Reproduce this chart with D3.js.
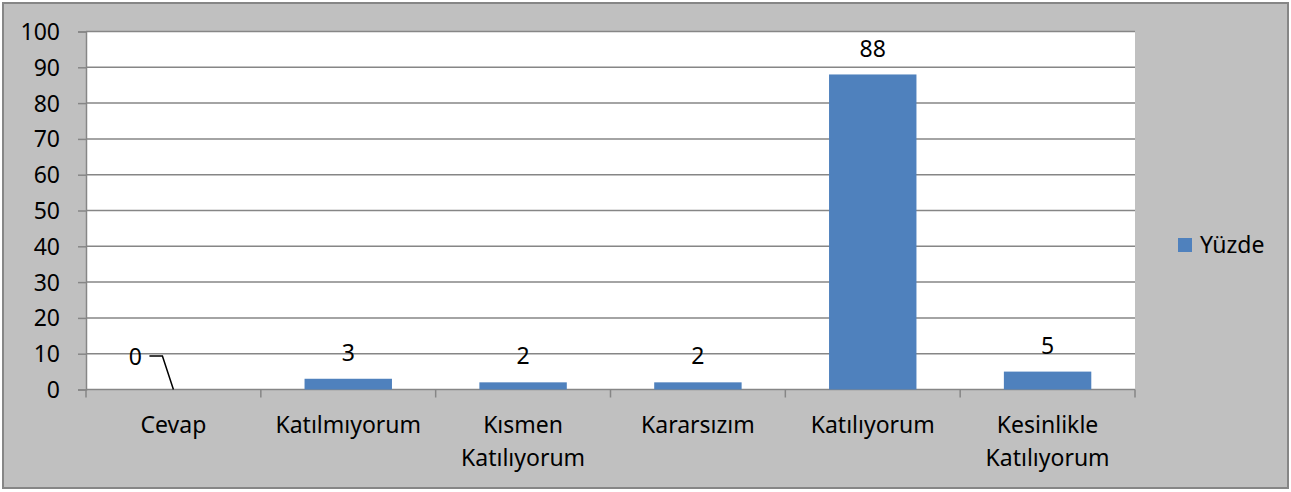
<!DOCTYPE html>
<html>
<head>
<meta charset="utf-8">
<script src="https://cdn.jsdelivr.net/npm/d3@7"></script>
<style>
  body { margin: 0; background: #fff; }
  svg text { font-family: "Noto Sans", "Open Sans", sans-serif; fill: #000; }
</style>
</head>
<body>
<svg id="chart" width="1291" height="492"></svg>
<script>
// chart data
const categories = ["Cevap", "Katılmıyorum", "Kısmen Katılıyorum", "Kararsızım", "Katılıyorum", "Kesinlikle Katılıyorum"];
const values = [0, 3, 2, 2, 88, 5];
const seriesName = "Yüzde";
const yTicks = [0, 10, 20, 30, 40, 50, 60, 70, 80, 90, 100];

const width = 1291, height = 492;
const plot = { left: 86, right: 1135, top: 31.5, bottom: 389.5 };
const fontSize = 23;

const svg = d3.select("#chart");

// outer frame
svg.append("rect")
    .attr("x", 3).attr("y", 3)
    .attr("width", width - 6).attr("height", height - 7)
    .attr("fill", "#c0c0c0")
    .attr("stroke", "#868686")
    .attr("stroke-width", 2);

// plot area
svg.append("rect")
    .attr("x", plot.left).attr("y", plot.top)
    .attr("width", plot.right - plot.left).attr("height", plot.bottom - plot.top)
    .attr("fill", "#fff");

const x = d3.scaleBand()
    .domain(categories)
    .range([plot.left, plot.right])
    .paddingInner(0.5)
    .paddingOuter(0.25);

const y = d3.scaleLinear()
    .domain([0, 100])
    .range([plot.bottom, plot.top]);

//gridlines
svg.append("g")
    .selectAll("line")
    .data(yTicks.slice(1))
    .join("line")
        .attr("x1", plot.left).attr("x2", plot.right)
        .attr("y1", d => y(d)).attr("y2", d => y(d))
        .attr("stroke", "#868686")
        .attr("stroke-width", 1.5);

// y axis
const yAxis = svg.append("g")
    .attr("transform", `translate(${plot.left},0)`)
    .call(d3.axisLeft(y).tickValues(yTicks).tickSize(8).tickPadding(18));
yAxis.select(".domain").attr("stroke", "#868686").attr("stroke-width", 1.5);
yAxis.selectAll(".tick line").attr("stroke", "#868686").attr("stroke-width", 1.5);
yAxis.selectAll(".tick text")
    .attr("font-size", fontSize)
    .attr("font-family", null)
    .attr("dy", "0.35em");

// x axis (ticks between categories)
const step = (plot.right - plot.left) / categories.length;
const xAxis = svg.append("g");
xAxis.append("line")
    .attr("x1", plot.left).attr("x2", plot.right)
    .attr("y1", plot.bottom).attr("y2", plot.bottom)
    .attr("stroke", "#868686").attr("stroke-width", 1.5);
xAxis.selectAll(".xtick")
    .data(d3.range(categories.length + 1))
    .join("line")
        .attr("class", "xtick")
        .attr("x1", i => plot.left + i * step).attr("x2", i => plot.left + i * step)
        .attr("y1", plot.bottom).attr("y2", plot.bottom + 8)
        .attr("stroke", "#868686").attr("stroke-width", 1.5);

xAxis.selectAll(".xlabel")
    .data(categories)
    .join("text")
        .attr("class", "xlabel")
        .attr("x", d => x(d) + x.bandwidth() / 2)
        .attr("y", 433)
        .attr("text-anchor", "middle")
        .attr("font-size", fontSize)
        .each(function (d) {
            const words = d.split(" ");
            d3.select(this).selectAll("tspan")
                .data(words)
                .join("tspan")
                    .attr("x", x(d) + x.bandwidth() / 2)
                    .attr("dy", (w, i) => i === 0 ? 0 : 33)
                    .text(w => w);
        });

// bars
svg.append("g")
    .selectAll("rect")
    .data(values)
    .join("rect")
        .attr("x", (d, i) => x(categories[i]))
        .attr("y", d => y(d))
        .attr("width", x.bandwidth())
        .attr("height", d => y(0) - y(d))
        .attr("fill", "#4f81bd");

// value labels
const labels = svg.append("g");
values.forEach((v, i) => {
    const cx = x(categories[i]) + x.bandwidth() / 2;
    if (v === 0) {
        //label pushed aside with a leader line
        labels.append("text")
            .attr("x", cx - 38).attr("y", y(v) - 33)
            .attr("dy", "0.35em")
            .attr("text-anchor", "middle")
            .attr("font-size", fontSize)
            .text(v);
        labels.append("path")
            .attr("d", `M${cx - 24},${y(v) - 33.5}H${cx - 11}L${cx},${y(v)}`)
            .attr("fill", "none")
            .attr("stroke", "#000")
            .attr("stroke-width", 1.5);
    } else {
        labels.append("text")
            .attr("x", cx).attr("y", y(v) - 26)
            .attr("dy", "0.35em")
            .attr("text-anchor", "middle")
            .attr("font-size", fontSize)
            .text(v);
    }
});

// legend
const legend = svg.append("g").attr("transform", "translate(1178,238)");
legend.append("rect")
    .attr("width", 14).attr("height", 14)
    .attr("fill", "#4f81bd");
legend.append("text")
    .attr("x", 22).attr("y", 7)
    .attr("dy", "0.35em")
    .attr("font-size", fontSize)
    .text(seriesName);
</script>
</body>
</html>
